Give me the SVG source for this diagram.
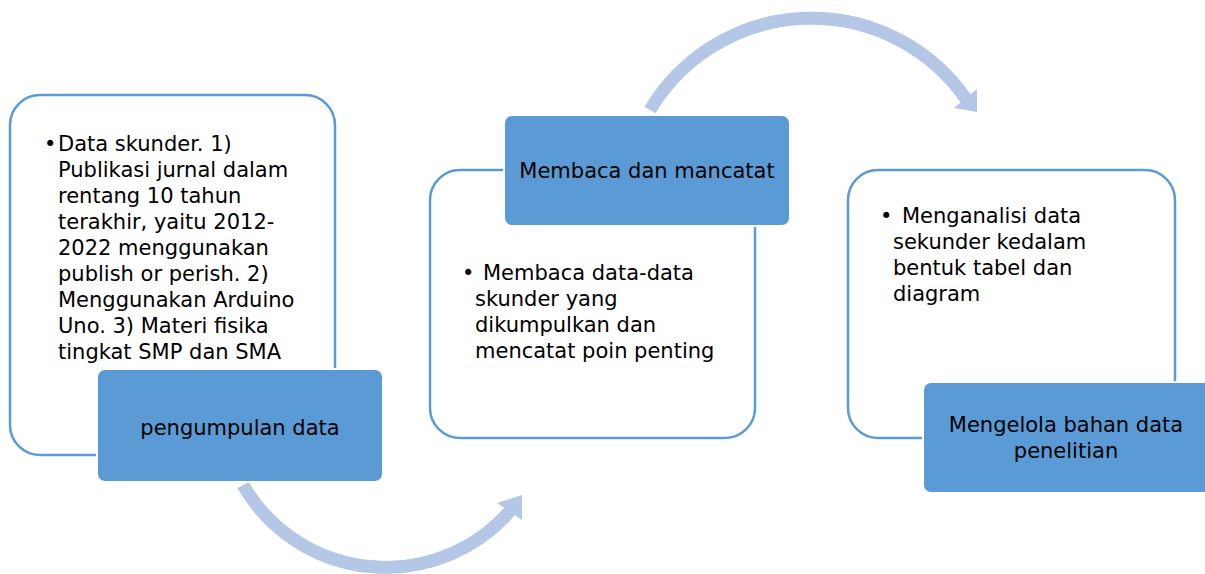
<svg xmlns="http://www.w3.org/2000/svg" width="1205" height="574" viewBox="0 0 1205 574">
  <style>
    .outline { fill: #ffffff; stroke: #5b9bd5; stroke-width: 2.5; }
    .head { fill: #5b9bd5; stroke: #ffffff; stroke-width: 2; }
    .arc { fill: none; stroke: #b4c7e7; stroke-width: 13; }
    .tip { fill: #b4c7e7; }
    text { font-family: "DejaVu Sans", Verdana, sans-serif; font-size: 21px; fill: #000000; }
    .c { text-anchor: middle; }
  </style>
  <rect width="1205" height="574" fill="#ffffff"/>
  <g id="connectors">
    <path class="arc" d="M243,485 A165,165 0 0 0 510,511"/>
    <polygon class="tip" points="497,503 522,495 522,520"/>
    <path class="arc" d="M650,110 A188,188 0 0 1 966,99"/>
    <polygon class="tip" points="977,89 977,112 954,108"/>
  </g>
  <g id="node1">
    <rect class="outline" x="10" y="95" width="325" height="360" rx="30"/>
    <text x="44" y="151">•</text>
    <text x="58" y="151">Data skunder. 1)</text>
    <text x="58" y="177">Publikasi jurnal dalam</text>
    <text x="58" y="203">rentang 10 tahun</text>
    <text x="58" y="229">terakhir, yaitu 2012-</text>
    <text x="58" y="255">2022 menggunakan</text>
    <text x="58" y="281">publish or perish. 2)</text>
    <text x="58" y="307">Menggunakan Arduino</text>
    <text x="58" y="333">Uno. 3) Materi fisika</text>
    <text x="58" y="359">tingkat SMP dan SMA</text>
    <rect class="head" x="97" y="369" width="286" height="113" rx="8"/>
    <text class="c" x="240" y="435">pengumpulan data</text>
  </g>
  <g id="node2">
    <rect class="outline" x="430" y="170" width="325" height="268" rx="30"/>
    <text x="462" y="280">•</text>
    <text x="483" y="280">Membaca data-data</text>
    <text x="475" y="306">skunder yang</text>
    <text x="475" y="332">dikumpulkan dan</text>
    <text x="475" y="358">mencatat poin penting</text>
    <rect class="head" x="504" y="115" width="286" height="111" rx="8"/>
    <text class="c" x="647" y="178">Membaca dan mancatat</text>
  </g>
  <g id="node3">
    <rect class="outline" x="848" y="170" width="327" height="268" rx="30"/>
    <text x="880" y="223">•</text>
    <text x="902" y="223">Menganalisi data</text>
    <text x="893" y="249">sekunder kedalam</text>
    <text x="893" y="275">bentuk tabel dan</text>
    <text x="893" y="301">diagram</text>
    <rect class="head" x="923" y="382" width="290" height="111" rx="8"/>
    <text class="c" x="1066" y="432">Mengelola bahan data</text>
    <text class="c" x="1066" y="458">penelitian</text>
  </g>
</svg>
